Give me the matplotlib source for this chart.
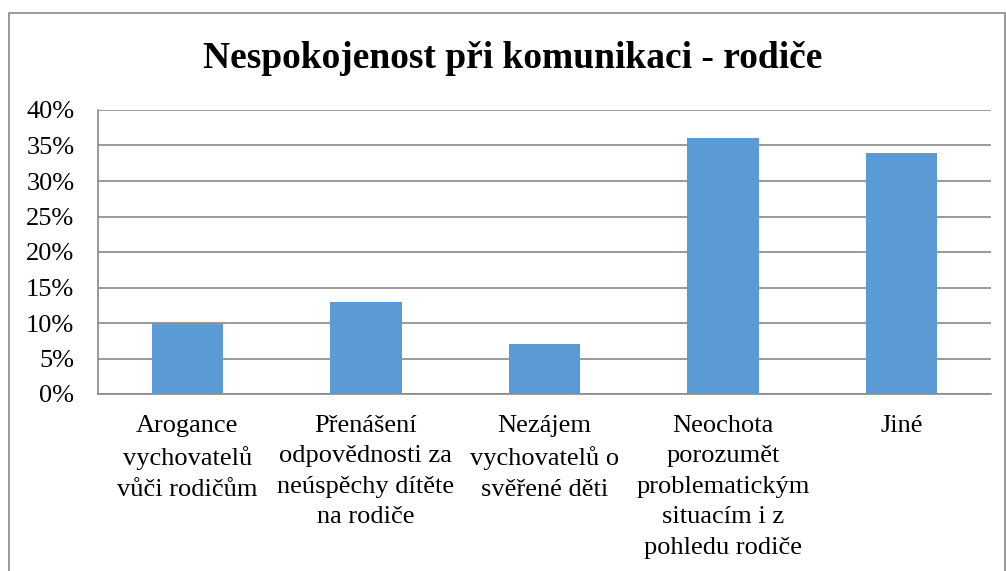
import matplotlib
matplotlib.use("Agg")
import matplotlib.pyplot as plt
from matplotlib.patches import Rectangle

categories = [
    "Arogance\nvychovatelů\nvůči rodičům",
    "Přenášení\nodpovědnosti za\nneúspěchy dítěte\nna rodiče",
    "Nezájem\nvychovatelů o\nsvěřené děti",
    "Neochota\nporozumět\nproblematickým\nsituacím i z\npohledu rodiče",
    "Jiné",
]
values = [10, 13, 7, 36, 34]
yticks = [0, 5, 10, 15, 20, 25, 30, 35, 40]
title = "Nespokojenost při komunikaci - rodiče"

W, H = 1006, 571
fig = plt.figure(figsize=(W / 100, H / 100), dpi=100)
plt.rcParams['font.family'] = ['Liberation Serif', 'DejaVu Serif']

# chart border
fig.patches.append(Rectangle((9 / W, -0.1), (1005 - 9) / W, (H - 13) / H + 0.1,
                             transform=fig.transFigure, fill=False,
                             edgecolor='#898989', linewidth=1.2))

left, right, top, bottom = 98, 991, 110, 394
ax = fig.add_axes([left / W, 1 - bottom / H, (right - left) / W, (bottom - top) / H])

x = list(range(len(values)))
ax.bar(x, values, width=0.4, color='#5B9BD5', zorder=3)
ax.set_xlim(-0.5, len(values) - 0.5)
ax.set_ylim(0, 40)
ax.set_yticks(yticks)
ax.set_yticklabels([f"{t}%" for t in yticks], fontsize=19)
ax.set_xticks(x)
ax.set_xticklabels(categories, fontsize=19, linespacing=1.5, va='top')
ax.tick_params(axis='both', length=0)
ax.tick_params(axis='x', pad=15)
ax.tick_params(axis='y', pad=17)
ax.grid(axis='y', color='#898989', linewidth=1.2, zorder=0)
for s in ['top', 'right']:
    ax.spines[s].set_visible(False)
for s in ['left', 'bottom']:
    ax.spines[s].set_color('#898989')
    ax.spines[s].set_linewidth(1.2)

fig.text(513 / W, 1 - 58 / H, title, ha='center', va='center',
         fontsize=27, fontweight='bold')

fig.savefig("out.png", dpi=100)
